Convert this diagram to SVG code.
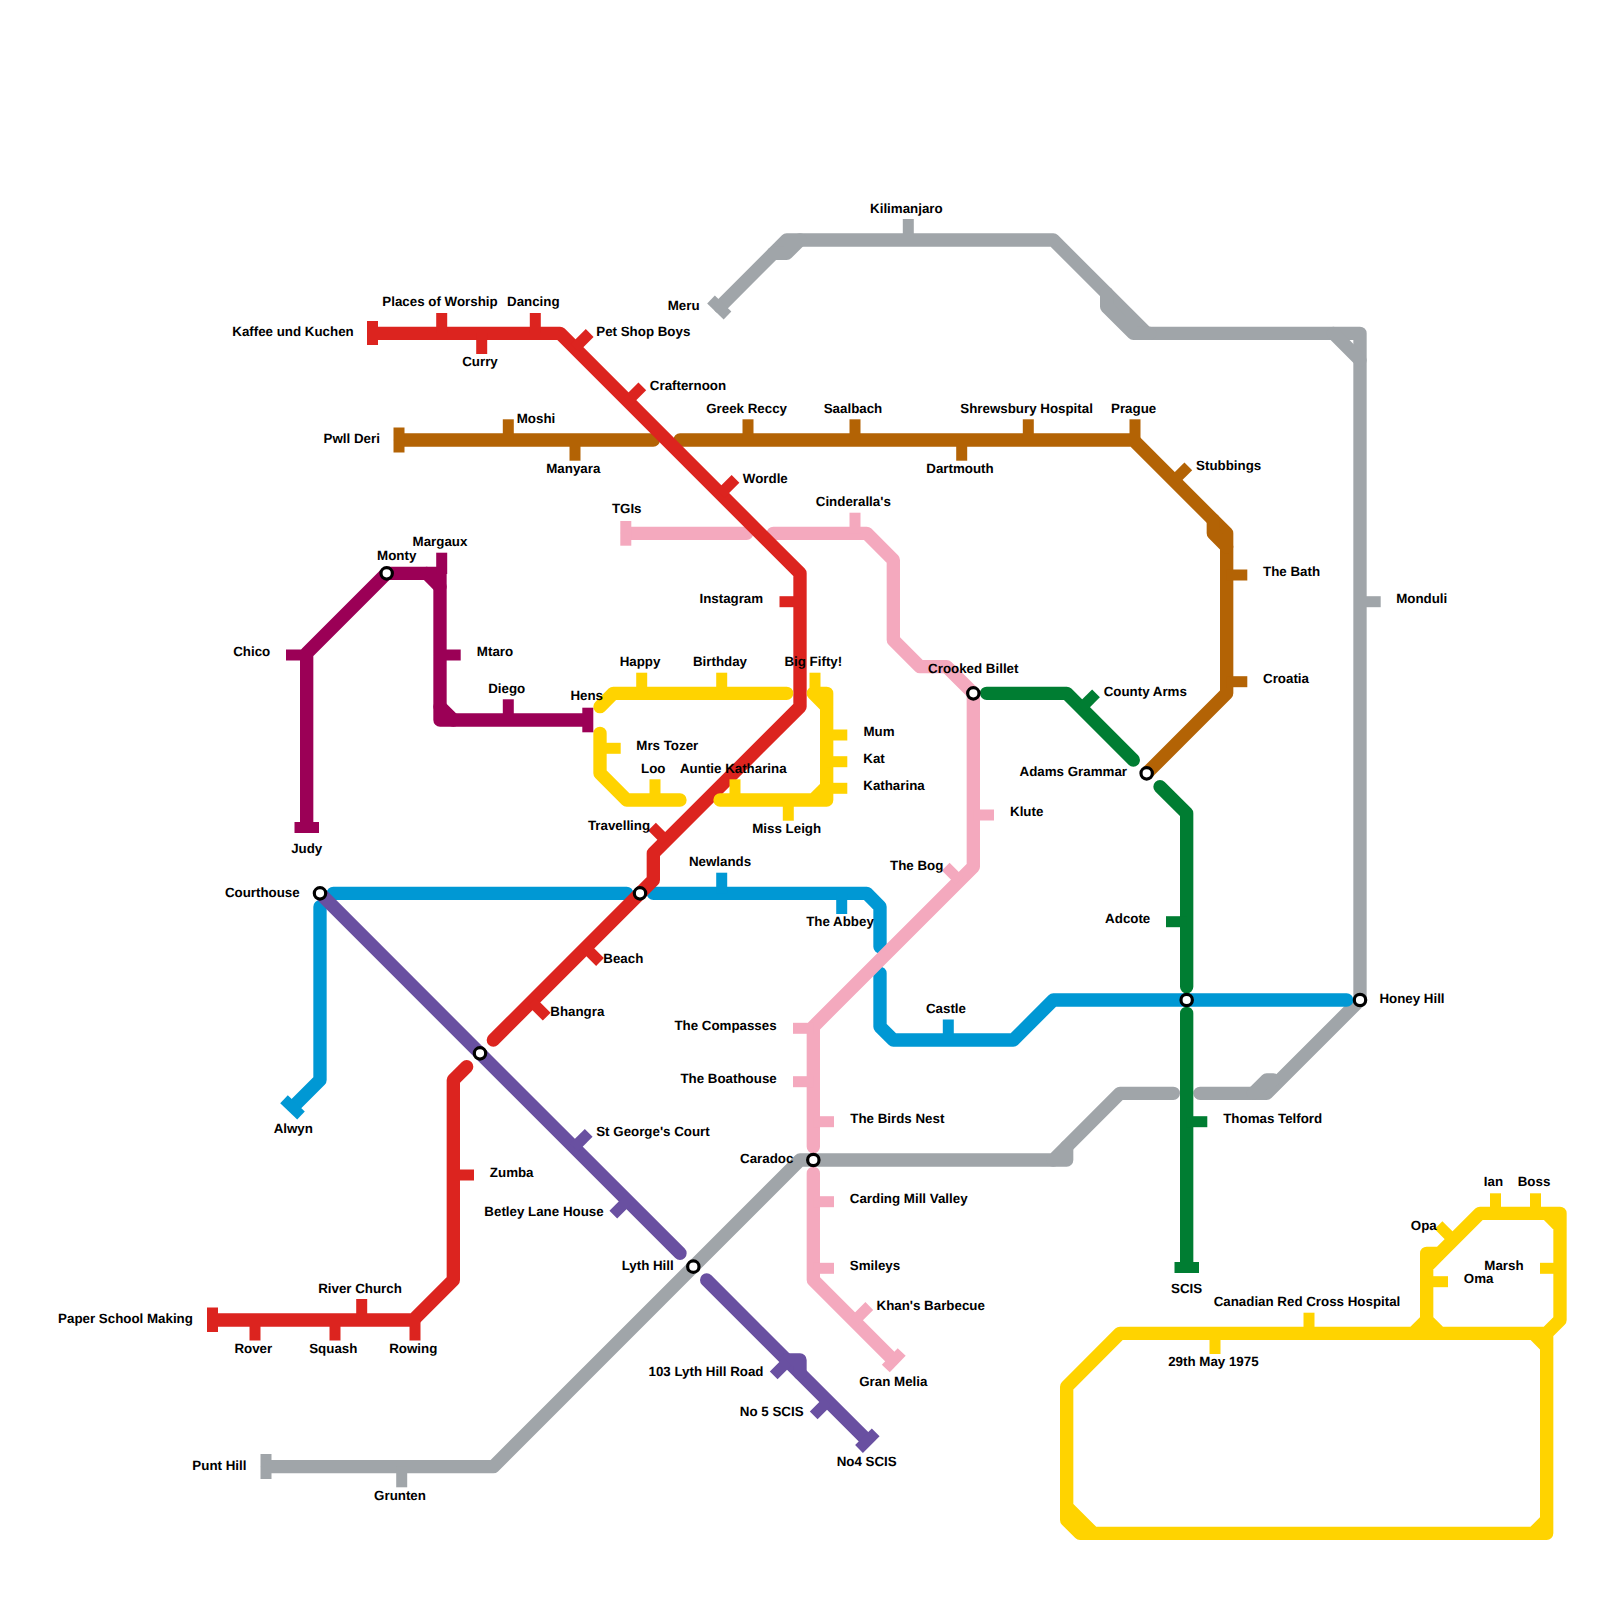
<svg xmlns="http://www.w3.org/2000/svg" width="1600" height="1600" viewBox="0 0 1600 1600">
<style>
text{font-family:"Liberation Sans",Arial,sans-serif;font-size:13.33px;font-weight:700;fill:#000;text-anchor:middle;dominant-baseline:central;text-rendering:geometricPrecision}
.l{fill:none;stroke-width:13.33;stroke-linecap:round;stroke-linejoin:round}
.t{stroke-width:11;stroke-linecap:butt;fill:none}
.red{stroke:#DC241F}.brown{stroke:#B36305}.pink{stroke:#F4A9BE}.yellow{stroke:#FFD300}.green{stroke:#007D32}.blue{stroke:#0098D4}.grey{stroke:#A0A5A9}.plum{stroke:#9B0056}.purple{stroke:#6950A1}
.s{fill:#fff;stroke:#000;stroke-width:3.2}
</style>
<rect width="1600" height="1600" fill="#fff"/>
<g id="connectors">
<g id="line-grey">
<path class="l grey" d="M720,306.67L786.67,240H1053.33L1146.67,333.33H1360V1000L1266.67,1093.33H1200"/>
<path class="l grey" d="M773.33,253.33H786.67L800,240M1106.67,293.33V306.67L1133.33,333.33H1150M1333.33,333.33L1360,360M1253.33,1093.33L1266.67,1080H1273.33"/>
<path class="l grey" d="M1173.33,1093.33H1120L1053.33,1160H800L493.33,1466.67H267.5"/>
<path class="l grey" d="M1053.33,1160H1066.67V1146.67"/>
</g>
<g id="line-blue">
<path class="l blue" d="M333.33,893.33H626.67M653.33,893.33H866.67L880,906.67V946.67M880,973.33V1026.67L893.33,1040H1013.33L1053.33,1000H1346.67M320,906.67V1080L294.5,1105.5"/>
</g>
<g id="line-brown">
<path class="l brown" d="M400.5,440H653.33M680,440H1133.33L1226.67,533.33V693.33L1146.67,773.33"/>
<path class="l brown" d="M1213.33,520V533.33L1226.67,546.67"/>
</g>
<g id="line-pink">
<path class="l pink" d="M627.5,533.33H746.67M773.33,533.33H866.67L893.33,560V640L920,666.67H946.67L973.33,693.33V866.67L813.33,1026.67V1146.67M813.33,1173.33V1280L892.5,1359.2"/>
</g>
<g id="line-red">
<path class="l red" d="M374,333.33H560L800,573.33V706.67L653.33,853.33V880L493.33,1040"/>
<path class="l red" d="M466.67,1066.67L453.33,1080V1280L413.33,1320H214"/>
</g>
<g id="line-green">
<path class="l green" d="M986.67,693.33H1066.67L1133.33,760M1160,786.67L1186.67,813.33V986.67M1186.67,1013.33V1265"/>
</g>
<g id="line-plum">
<path class="l plum" d="M306.67,826V653.33L386.67,573.33H440V720H586"/>
<path class="l plum" d="M426.67,573.33L440,586.67M440,706.67L453.33,720"/>
</g>
<g id="line-purple">
<path class="l purple" d="M320,893.33L680,1253.33M706.67,1280L866,1439.3"/>
<path class="l purple" d="M786.67,1360H800V1373.33"/>
</g>
<g id="line-yellow">
<path class="l yellow" d="M600,706.67L613.33,693.33H786.67M813.33,693.33H826.67V800H720M813.33,693.33L826.67,706.67M813.33,800L826.67,786.67M600,733.33V773.33L626.67,800H680"/>
<path class="l yellow" d="M1120,1333.33H1546.67V1533.33H1080L1066.67,1520V1386.67ZM1066.67,1506.67L1093.33,1533.33M1533.33,1533.33L1546.67,1520M1533.33,1333.33L1546.67,1346.67M1546.67,1333.33L1560,1320V1213.33H1480L1440,1253.33H1426.67V1320L1413.33,1333.33M1426.67,1320L1440,1333.33M1546.67,1213.33L1560,1226.67M1440,1253.33L1426.67,1266.67"/>
</g>
</g>
<g id="n-kaffee"><path class="t red" d="M372.5,321V345"/><text x="293" y="331.7">Kaffee und Kuchen</text></g>
<g id="n-places"><path class="t red" d="M441.7,333V313"/><text x="440" y="301.7">Places of Worship</text></g>
<g id="n-dancing"><path class="t red" d="M535.3,333V313"/><text x="533.3" y="301.7">Dancing</text></g>
<g id="n-curry"><path class="t red" d="M481.7,333V354"/><text x="480" y="361.7">Curry</text></g>
<g id="n-petshop"><path class="t red" d="M574.7,348L589.7,333"/><text x="643.3" y="331.7">Pet Shop Boys</text></g>
<g id="n-crafternoon"><path class="t red" d="M627.3,401.3L642.3,386.3"/><text x="688" y="385.7">Crafternoon</text></g>
<g id="n-wordle"><path class="t red" d="M720.5,493.8L735.5,478.8"/><text x="765.3" y="478.6">Wordle</text></g>
<g id="n-instagram"><path class="t red" d="M800,601.7H779.5"/><text x="731.3" y="598.3">Instagram</text></g>
<g id="n-travelling"><path class="t red" d="M666,840.7L652,826.7"/><text x="619" y="825">Travelling</text></g>
<g id="n-beach"><path class="t red" d="M586,948L600,962"/><text x="623.3" y="958.3">Beach</text></g>
<g id="n-bhangra"><path class="t red" d="M531.7,1001.7L546.7,1016.7"/><text x="577.3" y="1011.8">Bhangra</text></g>
<g id="n-zumba"><path class="t red" d="M453,1175H474"/><text x="511.7" y="1172">Zumba</text></g>
<g id="n-riverchurch"><path class="t red" d="M361.7,1320V1299"/><text x="360" y="1288">River Church</text></g>
<g id="n-paperschool"><path class="t red" d="M212.5,1307.5V1332"/><text x="125.5" y="1318.4">Paper School Making</text></g>
<g id="n-rover"><path class="t red" d="M255,1320V1340.5"/><text x="253.3" y="1348">Rover</text></g>
<g id="n-squash"><path class="t red" d="M335,1320V1340.5"/><text x="333.3" y="1348">Squash</text></g>
<g id="n-rowing"><path class="t red" d="M415,1320V1340.5"/><text x="413.3" y="1348">Rowing</text></g>
<g id="n-pwll"><path class="t brown" d="M399,427.5V452.5"/><text x="351.7" y="438.3">Pwll Deri</text></g>
<g id="n-moshi"><path class="t brown" d="M508.3,440V419.3"/><text x="536" y="418.3">Moshi</text></g>
<g id="n-manyara"><path class="t brown" d="M575,440V460.7"/><text x="573.3" y="468.3">Manyara</text></g>
<g id="n-greek"><path class="t brown" d="M748,440V419.3"/><text x="746.6" y="408.3">Greek Reccy</text></g>
<g id="n-saalbach"><path class="t brown" d="M855,440V419.3"/><text x="853" y="408.3">Saalbach</text></g>
<g id="n-shrewsbury"><path class="t brown" d="M1028.3,440V419.3"/><text x="1026.6" y="408.3">Shrewsbury Hospital</text></g>
<g id="n-prague"><path class="t brown" d="M1135,440V419.3"/><text x="1133.6" y="408.3">Prague</text></g>
<g id="n-dartmouth"><path class="t brown" d="M961.7,440V460.7"/><text x="960" y="468.3">Dartmouth</text></g>
<g id="n-stubbings"><path class="t brown" d="M1174,480.6L1188.3,466.3"/><text x="1228.7" y="465">Stubbings</text></g>
<g id="n-bath"><path class="t brown" d="M1226.67,575H1247.3"/><text x="1291.6" y="571.7">The Bath</text></g>
<g id="n-croatia"><path class="t brown" d="M1226.67,681.7H1247.3"/><text x="1286" y="678.3">Croatia</text></g>
<g id="n-tgis"><path class="t pink" d="M625.8,521V545.7"/><text x="626.7" y="508.3">TGIs</text></g>
<g id="n-cinderalla"><path class="t pink" d="M855,533.3V512.7"/><text x="853.3" y="501.7">Cinderalla's</text></g>
<g id="n-klute"><path class="t pink" d="M973.3,815H994"/><text x="1026.7" y="811.7">Klute</text></g>
<g id="n-bog"><path class="t pink" d="M959.7,880.7L945.7,866.7"/><text x="916.7" y="865">The Bog</text></g>
<g id="n-compasses"><path class="t pink" d="M813.3,1028.3H793"/><text x="725.5" y="1025.5">The Compasses</text></g>
<g id="n-boathouse"><path class="t pink" d="M813.3,1081.7H793"/><text x="728.6" y="1078.6">The Boathouse</text></g>
<g id="n-birdsnest"><path class="t pink" d="M813.3,1121.7H834"/><text x="897.3" y="1118.3">The Birds Nest</text></g>
<g id="n-carding"><path class="t pink" d="M813.3,1201.7H834"/><text x="908.7" y="1198.3">Carding Mill Valley</text></g>
<g id="n-smileys"><path class="t pink" d="M813.3,1268.3H834"/><text x="875" y="1265">Smileys</text></g>
<g id="n-khans"><path class="t pink" d="M854.3,1321L869.3,1306"/><text x="930.7" y="1305">Khan's Barbecue</text></g>
<g id="n-granmelia"><path class="t pink" d="M901.7,1352L885.8,1368.5"/><text x="893.3" y="1381.7">Gran Melia</text></g>
<g id="n-happy"><path class="t yellow" d="M641.7,693.3V672.7"/><text x="640" y="661.7">Happy</text></g>
<g id="n-birthday"><path class="t yellow" d="M721.7,693.3V672.7"/><text x="720" y="661.7">Birthday</text></g>
<g id="n-bigfifty"><path class="t yellow" d="M815,693.3V672.7"/><text x="813.3" y="661.7">Big Fifty!</text></g>
<g id="n-mum"><path class="t yellow" d="M826.7,735H847.3"/><text x="879" y="731.7">Mum</text></g>
<g id="n-kat"><path class="t yellow" d="M826.7,761.7H847.3"/><text x="874" y="758.3">Kat</text></g>
<g id="n-katharina"><path class="t yellow" d="M826.7,788.3H847.3"/><text x="894" y="785">Katharina</text></g>
<g id="n-missleigh"><path class="t yellow" d="M788.3,800V820.7"/><text x="786.7" y="828.3">Miss Leigh</text></g>
<g id="n-auntie"><path class="t yellow" d="M735,800V779.3"/><text x="733.3" y="768.3">Auntie Katharina</text></g>
<g id="n-loo"><path class="t yellow" d="M655,800V779.3"/><text x="653.3" y="768.3">Loo</text></g>
<g id="n-mrstozer"><path class="t yellow" d="M600,748.3H620.7"/><text x="667.3" y="745">Mrs Tozer</text></g>
<g id="n-ian"><path class="t yellow" d="M1495.5,1213.3V1193.3"/><text x="1493.4" y="1181.7">Ian</text></g>
<g id="n-boss"><path class="t yellow" d="M1535.5,1213.3V1193.3"/><text x="1534" y="1181.7">Boss</text></g>
<g id="n-opa"><path class="t yellow" d="M1453.3,1240L1438.5,1225.2"/><text x="1423.8" y="1225">Opa</text></g>
<g id="n-marsh"><path class="t yellow" d="M1560,1268.3H1540"/><text x="1504" y="1265">Marsh</text></g>
<g id="n-oma"><path class="t yellow" d="M1426.7,1281.7H1448"/><text x="1478.6" y="1278.3">Oma</text></g>
<g id="n-canadian"><path class="t yellow" d="M1309,1333.3V1312.7"/><text x="1307" y="1301.7">Canadian Red Cross Hospital</text></g>
<g id="n-29th"><path class="t yellow" d="M1215,1333.3V1354"/><text x="1213.4" y="1361.7">29th May 1975</text></g>
<g id="n-countyarms"><path class="t green" d="M1081.3,708L1096,693.3"/><text x="1145.3" y="691.7">County Arms</text></g>
<g id="n-adcote"><path class="t green" d="M1186.7,921.7H1166"/><text x="1127.7" y="918.3">Adcote</text></g>
<g id="n-telford"><path class="t green" d="M1186.7,1121.7H1207.3"/><text x="1272.7" y="1118.3">Thomas Telford</text></g>
<g id="n-scis"><path class="t green" d="M1174.5,1267.5H1199"/><text x="1186.6" y="1288.3">SCIS</text></g>
<g id="n-newlands"><path class="t blue" d="M721.7,893.3V872.7"/><text x="720" y="861.7">Newlands</text></g>
<g id="n-abbey"><path class="t blue" d="M841.7,893.3V914"/><text x="840" y="921.7">The Abbey</text></g>
<g id="n-castle"><path class="t blue" d="M948.3,1040V1019.5"/><text x="946" y="1008">Castle</text></g>
<g id="n-alwyn"><path class="t blue" d="M284,1099.3L301,1115.4"/><text x="293.3" y="1128.6">Alwyn</text></g>
<g id="n-kilimanjaro"><path class="t grey" d="M908.3,240V219"/><text x="906.4" y="208.3">Kilimanjaro</text></g>
<g id="n-meru"><path class="t grey" d="M711,299.5L727.5,315.5"/><text x="683.7" y="305">Meru</text></g>
<g id="n-monduli"><path class="t grey" d="M1360,601.7H1380.7"/><text x="1421.7" y="598.3">Monduli</text></g>
<g id="n-punthill"><path class="t grey" d="M266,1454V1479"/><text x="219.4" y="1465.3">Punt Hill</text></g>
<g id="n-grunten"><path class="t grey" d="M401.7,1466.7V1487.3"/><text x="400" y="1495">Grunten</text></g>
<g id="n-judy"><path class="t plum" d="M294.5,827.5H319"/><text x="306.7" y="848">Judy</text></g>
<g id="n-chico"><path class="t plum" d="M306.7,655H286"/><text x="251.7" y="651.7">Chico</text></g>
<g id="n-margaux"><path class="t plum" d="M441.7,574V552.7"/><text x="440" y="541.7">Margaux</text></g>
<g id="n-mtaro"><path class="t plum" d="M440,655H460.7"/><text x="495" y="651.7">Mtaro</text></g>
<g id="n-diego"><path class="t plum" d="M508.3,720V699.3"/><text x="506.7" y="688.3">Diego</text></g>
<g id="n-hens"><path class="t plum" d="M587.8,707.7V732.3"/><text x="586.7" y="695">Hens</text></g>
<g id="n-stgeorge"><path class="t purple" d="M574,1147.5L588.7,1132.9"/><text x="653" y="1131.6">St George's Court</text></g>
<g id="n-betley"><path class="t purple" d="M627.3,1200.6L613.3,1214.6"/><text x="544" y="1211.8">Betley Lane House</text></g>
<g id="n-103"><path class="t purple" d="M787.7,1361.3L773.7,1375.3"/><text x="706" y="1371.7">103 Lyth Hill Road</text></g>
<g id="n-no5"><path class="t purple" d="M827.7,1401.3L813.7,1415.3"/><text x="771.7" y="1411.7">No 5 SCIS</text></g>
<g id="n-no4"><path class="t purple" d="M875.7,1432.3L859,1449"/><text x="866.7" y="1461.7">No4 SCIS</text></g>
<g id="n-courthouse"><circle class="s" cx="320" cy="893.33" r="5.7"/><text x="262.3" y="892">Courthouse</text></g>
<g id="n-monty"><circle class="s" cx="386.67" cy="573.33" r="5.7"/><text x="396.7" y="555">Monty</text></g>
<g id="n-interchange-a"><circle class="s" cx="640" cy="893.33" r="5.7"/></g>
<g id="n-interchange-b"><circle class="s" cx="480" cy="1053.33" r="5.7"/></g>
<g id="n-lythhill"><circle class="s" cx="693.33" cy="1266.67" r="5.7"/><text x="647.7" y="1265.4">Lyth Hill</text></g>
<g id="n-caradoc"><circle class="s" cx="813.33" cy="1160" r="5.7"/><text x="766.7" y="1158.3">Caradoc</text></g>
<g id="n-crookedbillet"><circle class="s" cx="973.33" cy="693.33" r="5.7"/><text x="973.3" y="668.3">Crooked Billet</text></g>
<g id="n-adams"><circle class="s" cx="1146.67" cy="773.33" r="5.7"/><text x="1073.3" y="771.7">Adams Grammar</text></g>
<g id="n-interchange-c"><circle class="s" cx="1186.67" cy="1000" r="5.7"/></g>
<g id="n-honeyhill"><circle class="s" cx="1360" cy="1000" r="5.7"/><text x="1412" y="998.7">Honey Hill</text></g>
</svg>
